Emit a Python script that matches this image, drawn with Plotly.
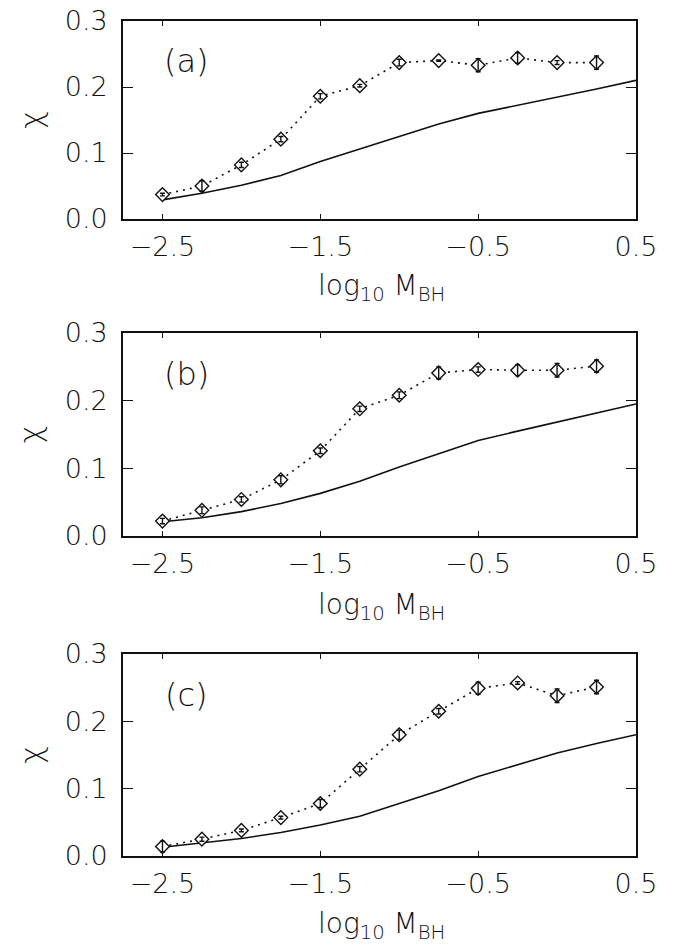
import plotly.graph_objects as go

# ---- data ----
x_pts = [-2.5, -2.25, -2.0, -1.75, -1.5, -1.25, -1.0, -0.75, -0.5, -0.25, 0.0, 0.25]
x_line = [-2.5, -2.25, -2.0, -1.75, -1.5, -1.25, -1.0, -0.75, -0.5, -0.25, 0.0, 0.25, 0.5]

chi_a = [0.037, 0.050, 0.082, 0.121, 0.186, 0.202, 0.237, 0.240, 0.233, 0.244, 0.237, 0.237]
err_a = [0.002, 0.008, 0.004, 0.004, 0.004, 0.002, 0.005, 0.001, 0.010, 0.008, 0.003, 0.010]
line_a = [0.029, 0.039, 0.051, 0.066, 0.087, 0.106, 0.125, 0.144, 0.160, 0.172, 0.184, 0.197, 0.210]

chi_b = [0.022, 0.038, 0.054, 0.083, 0.126, 0.188, 0.208, 0.241, 0.246, 0.245, 0.245, 0.251]
err_b = [0.004, 0.005, 0.004, 0.006, 0.004, 0.004, 0.005, 0.009, 0.004, 0.008, 0.010, 0.009]
line_b = [0.021, 0.027, 0.036, 0.048, 0.063, 0.081, 0.102, 0.122, 0.141, 0.155, 0.168, 0.181, 0.195]

chi_c = [0.014, 0.025, 0.038, 0.057, 0.078, 0.129, 0.180, 0.215, 0.249, 0.257, 0.238, 0.251]
err_c = [0.008, 0.003, 0.002, 0.002, 0.006, 0.004, 0.007, 0.004, 0.009, 0.002, 0.010, 0.010]
line_c = [0.013, 0.019, 0.026, 0.035, 0.046, 0.059, 0.078, 0.097, 0.118, 0.136, 0.153, 0.167, 0.180]

panel_labels = ["(a)", "(b)", "(c)"]
x_ticks = [-2.5, -1.5, -0.5, 0.5]
y_ticks = [0.0, 0.1, 0.2, 0.3]

# ---- figure ----
W, H = 675, 948
ML, MR, MT, MB = 115, 47, 13, 100
plot_h = H - MT - MB

def ydom(top_px, bot_px):
    return [(H - MB - bot_px) / plot_h, (H - MB - top_px) / plot_h]

domains = [ydom(13, 211), ydom(325, 528), ydom(646, 848)]

FONT = "DejaVu Sans"
INK = "#111111"

fig = go.Figure()
series = [(chi_a, err_a, line_a), (chi_b, err_b, line_b), (chi_c, err_c, line_c)]
for i, (chi, err, ln) in enumerate(series):
    xa = "x" if i == 0 else f"x{i+1}"
    ya = "y" if i == 0 else f"y{i+1}"
    # model curve
    fig.add_trace(go.Scatter(x=x_line, y=ln, mode="lines", xaxis=xa, yaxis=ya,
                             line=dict(color=INK, width=1.6), showlegend=False))
    # dotted connecting line
    fig.add_trace(go.Scatter(x=x_pts, y=chi, mode="lines", xaxis=xa, yaxis=ya,
                             line=dict(color=INK, width=1.6, dash="2px,5px"),
                             showlegend=False))
    # diamond markers
    fig.add_trace(go.Scatter(x=x_pts, y=chi, mode="markers", xaxis=xa, yaxis=ya,
                             marker=dict(symbol="diamond", size=10.5, color="white",
                                         line=dict(color=INK, width=1.4)),
                             showlegend=False))
    # error bars
    fig.add_trace(go.Scatter(x=x_pts, y=chi, mode="markers", xaxis=xa, yaxis=ya,
                             marker=dict(size=1, color="rgba(0,0,0,0)"),
                             error_y=dict(type="data", array=err, visible=True,
                                          color=INK, thickness=1.4, width=2.5),
                             showlegend=False))

axis_common = dict(showline=True, linecolor=INK, linewidth=1.6, mirror="ticks",
                   ticks="inside", tickcolor=INK, tickwidth=1.4, showgrid=False,
                   zeroline=False, automargin=False, ticklabeloverflow="allow",
                   tickfont=dict(family=FONT, size=27, color=INK, weight=200))

layout = dict(width=W, height=H, paper_bgcolor="white", plot_bgcolor="white",
              margin=dict(l=ML, r=MR, t=MT, b=MB), showlegend=False)
annotations = []
for i in range(3):
    xk = "xaxis" if i == 0 else f"xaxis{i+1}"
    yk = "yaxis" if i == 0 else f"yaxis{i+1}"
    ya = "y" if i == 0 else f"y{i+1}"
    xa = "x" if i == 0 else f"x{i+1}"
    layout[xk] = dict(axis_common, range=[-2.75, 0.5], tickvals=x_ticks,
                      tickformat=".1f", ticklen=5, ticklabelstandoff=3,
                      anchor=ya, domain=[0, 1])
    layout[yk] = dict(axis_common, range=[0, 0.3], tickvals=y_ticks,
                      tickformat=".1f", ticklen=10, ticklabelstandoff=8,
                      anchor=xa, domain=domains[i])
    annotations.append(dict(text=panel_labels[i], xref=f"{xa} domain", yref=f"{ya} domain",
                            x=0.123, y=0.798, xanchor="center", yanchor="middle",
                            showarrow=False,
                            font=dict(family=FONT, size=32, color=INK, weight=200)))
    annotations.append(dict(text="χ", xref=f"{xa} domain", yref=f"{ya} domain",
                            x=-0.18, y=0.5, xanchor="center", yanchor="middle",
                            textangle=-90, showarrow=False,
                            font=dict(family=FONT, size=30, color=INK, weight=200)))
    annotations.append(dict(text="log<sub>10</sub> M<sub>BH</sub>", xref=f"{xa} domain",
                            yref=f"{ya} domain", x=0.503, y=-0.345,
                            xanchor="center", yanchor="middle", showarrow=False,
                            font=dict(family=FONT, size=28, color=INK, weight=200)))
layout["annotations"] = annotations
fig.update_layout(**layout)

fig.write_html("out.html")
